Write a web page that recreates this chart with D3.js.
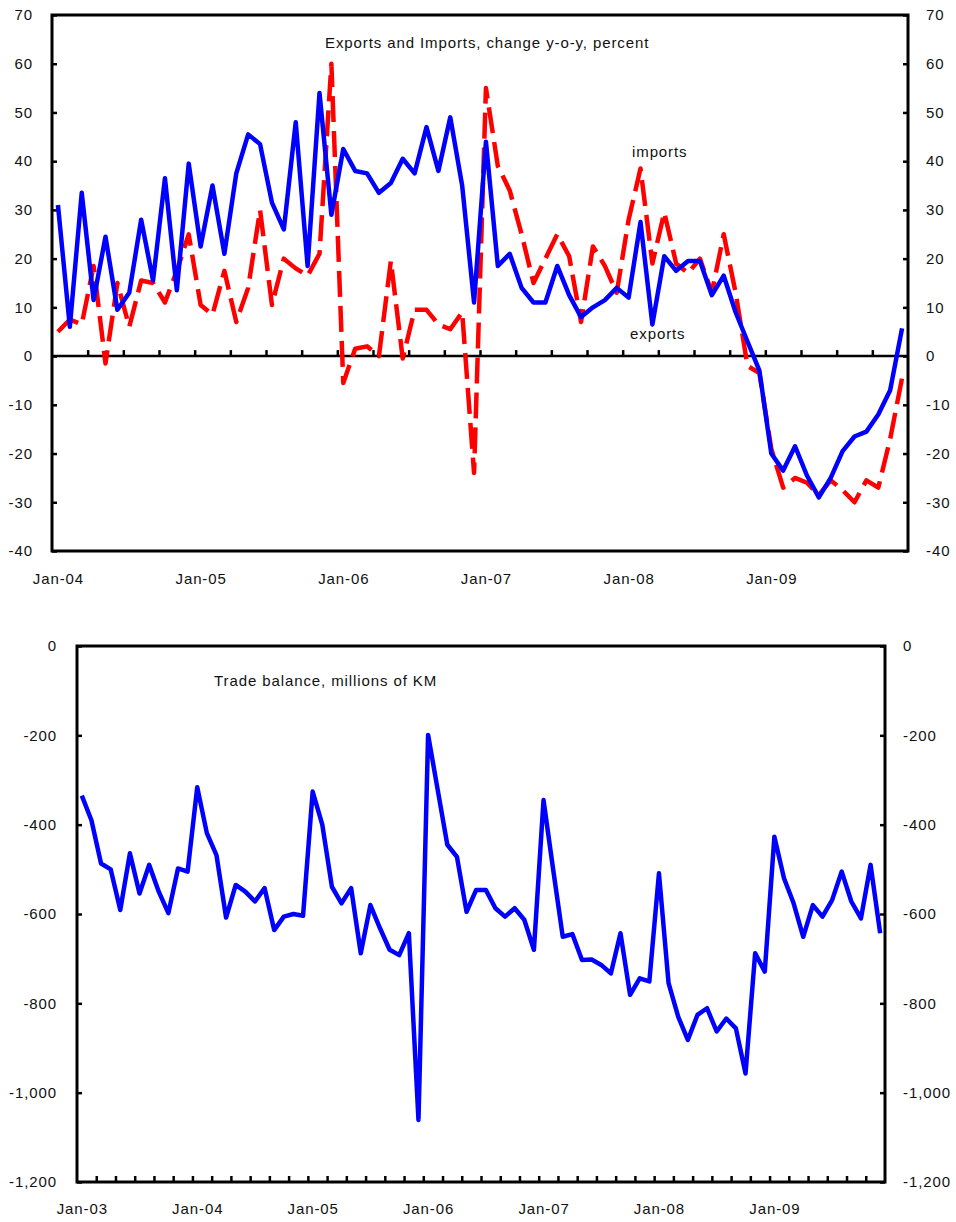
<!DOCTYPE html>
<html>
<head>
<meta charset="utf-8">
<title>Exports, imports and trade balance</title>
<style>
 html, body { margin: 0; padding: 0; background: #fff; }
 svg { display: block; font-family: "Liberation Sans", Arial, sans-serif; font-size: 15px; letter-spacing: 0.9px; }
 svg text { fill: #111; font-family: "Liberation Sans", Arial, sans-serif; font-size: 15px; }
 .frame { fill: none; stroke: #000; stroke-width: 3; }
 .axis .tick line { stroke: #000; stroke-width: 2.5; }
 .axis path.domain { display: none; }
 .zero { stroke: #000; stroke-width: 2.5; }
 .exports, .balance { fill: none; stroke: #0000ff; stroke-width: 4.5; stroke-linejoin: round; }
 .imports { fill: none; stroke: #ff0000; stroke-width: 4.5; stroke-dasharray: 26, 9; stroke-linejoin: round; }
</style>
</head>
<body>
<svg width="956" height="1222"></svg>
<script src="https://cdn.jsdelivr.net/npm/d3@7"></script>
<script>
// monthly y-o-y change, Jan-04 .. Dec-09
var exportsYoY = [31, 6, 33.5, 11.5, 24.5, 9.5, 13, 28, 15.5, 36.5, 13.5, 39.5,
  22.5, 35, 21, 37.5, 45.5, 43.5, 31.5, 26, 48, 18.5, 54, 29,
  42.5, 38, 37.5, 33.5, 35.5, 40.5, 37.5, 47, 38, 49, 35, 11,
  44, 18.5, 21, 14, 11, 11, 18.5, 12.5, 8, 10, 11.5, 14,
  12, 27.5, 6.5, 20.5, 17.5, 19.5, 19.5, 12.5, 16.5, 9, 3, -3,
  -20, -23.5, -18.5, -24.5, -29, -25, -19.5, -16.5, -15.5, -12, -7, 5.7];

var importsYoY = [5, 7.5, 6.5, 18.5, -1.5, 15, 6, 15.5, 15, 11, 17.5, 25,
  10.5, 8.5, 17.5, 7, 14, 30, 10.5, 20, 18, 16.5, 21, 60,
  -5.5, 1.5, 2, 0, 19.5, -0.5, 9.5, 9.5, 6.5, 5.5, 9, -24,
  55, 39, 34, 25, 15, 20, 25, 20.5, 7, 22.5, 18.5, 13,
  28, 38.5, 19, 29.5, 19, 17, 20, 13, 25, 13, -2, -3.5,
  -19, -27, -25, -26, -28.5, -25.5, -27.5, -30, -25.5, -27, -17, -4.5];

// trade balance, millions of KM, Jan-03 .. Dec-09
var tradeBalance = [-335, -390, -487, -500, -591, -464, -554, -490, -550, -598, -498, -505,
  -316, -419, -468, -608, -535, -550, -572, -542, -636, -606, -600, -604,
  -326, -400, -539, -576, -542, -688, -580, -632, -680, -692, -643, -1061,
  -199, -322, -445, -472, -595, -546, -546, -587, -606, -587, -613, -680,
  -345, -500, -651, -645, -703, -702, -714, -733, -643, -781, -744, -751,
  -509, -755, -830, -882, -826, -811, -863, -834, -856, -957, -688, -729,
  -427, -520, -576, -651, -580, -606, -569, -505, -572, -610, -490, -643];

var topYears = ["Jan-04", "Jan-05", "Jan-06", "Jan-07", "Jan-08", "Jan-09"];
var bottomYears = ["Jan-03", "Jan-04", "Jan-05", "Jan-06", "Jan-07", "Jan-08", "Jan-09"];
var topYTicks = [-40, -30, -20, -10, 0, 10, 20, 30, 40, 50, 60, 70];
var bottomYTicks = [-1200, -1000, -800, -600, -400, -200, 0];

var svg = d3.select("svg");
var loc = d3.formatLocale({decimal: ".", thousands: ",", grouping: [3], currency: ["", ""], minus: "-"});
var fmt = loc.format(",");

function panel(opts) {
  var n = opts.n;
  var x = d3.scaleLinear().domain([0, n]).range([opts.left, opts.right]);
  var y = d3.scaleLinear().domain(opts.yDomain).range([opts.bottom, opts.top]);
  var g = svg.append("g");

  // month ticks on the base line
  g.append("g")
    .attr("class", "axis")
    .attr("transform", "translate(0," + y(opts.baseValue) + ")")
    .call(d3.axisBottom(x)
      .tickValues(d3.range(opts.tickEvery, n, opts.tickEvery))
      .tickSize(-6).tickFormat(""));

  // year labels
  g.append("g")
    .attr("class", "axis")
    .attr("transform", "translate(0," + opts.bottom + ")")
    .call(d3.axisBottom(x)
      .tickValues(opts.years.map(function(d, i) { return i * 12 + 0.5; }))
      .tickSize(0).tickPadding(opts.labelPad)
      .tickFormat(function(d, i) { return opts.years[i]; }));

  g.append("g")
    .attr("class", "axis")
    .attr("transform", "translate(" + opts.left + ",0)")
    .call(d3.axisLeft(y).tickValues(opts.yTicks).tickSize(-5)
      .tickPadding(opts.leftPad).tickFormat(fmt));

  g.append("g")
    .attr("class", "axis")
    .attr("transform", "translate(" + opts.right + ",0)")
    .call(d3.axisRight(y).tickValues(opts.yTicks).tickSize(-5)
      .tickPadding(opts.rightPad).tickFormat(fmt));

  g.append("rect")
    .attr("class", "frame")
    .attr("x", opts.left).attr("y", opts.top)
    .attr("width", opts.right - opts.left)
    .attr("height", opts.bottom - opts.top);

  var line = d3.line()
    .x(function(d, i) { return x(i + 0.5); })
    .y(function(d) { return y(d); });

  return {g: g, x: x, y: y, line: line};
}

// ---- top: exports and imports
var p1 = panel({
  n: 72, left: 52, right: 908, top: 15, bottom: 551,
  yDomain: [-40, 70], yTicks: topYTicks, baseValue: 0,
  tickEvery: 3, years: topYears, labelPad: 22, leftPad: 19, rightPad: 18
});

p1.g.append("line")
  .attr("class", "zero")
  .attr("x1", 52).attr("x2", 908)
  .attr("y1", p1.y(0)).attr("y2", p1.y(0));

p1.g.append("path").datum(importsYoY).attr("class", "imports").attr("d", p1.line);
p1.g.append("path").datum(exportsYoY).attr("class", "exports").attr("d", p1.line);

p1.g.append("text").attr("x", 325).attr("y", 48).text("Exports and Imports, change y-o-y, percent");
p1.g.append("text").attr("x", 632).attr("y", 157).text("imports");
p1.g.append("text").attr("x", 630).attr("y", 339).text("exports");

// ---- bottom: trade balance
var p2 = panel({
  n: 84, left: 77, right: 885, top: 646, bottom: 1182,
  yDomain: [-1200, 0], yTicks: bottomYTicks, baseValue: -1200,
  tickEvery: 2, years: bottomYears, labelPad: 21, leftPad: 20, rightPad: 18
});

p2.g.append("path").datum(tradeBalance).attr("class", "balance").attr("d", p2.line);

p2.g.append("text").attr("x", 214).attr("y", 686).text("Trade balance, millions of KM");
</script>
</body>
</html>
